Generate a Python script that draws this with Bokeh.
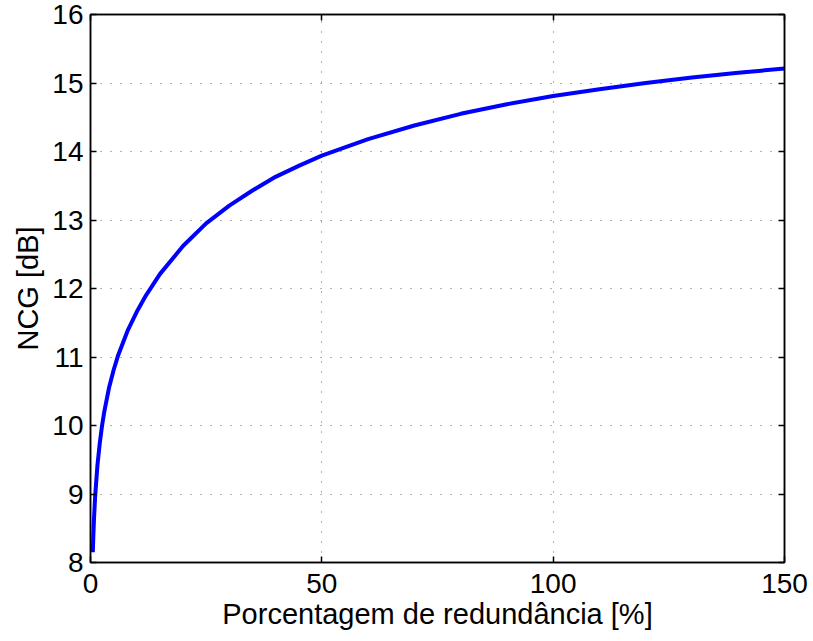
from bokeh.plotting import figure
from bokeh.models import Range1d, FixedTicker, LinearAxis
from bokeh.embed import file_html
from bokeh.resources import INLINE

redundancy = [0.5, 0.6, 0.75, 1, 1.5, 2, 2.5, 3, 4, 5, 6, 8, 10, 12, 15, 20, 25, 30, 35,
              40, 45, 50, 60, 70, 80, 90, 100, 110, 120, 130, 140, 150]
ncg = [8.15, 8.36, 8.63, 8.96, 9.42, 9.74, 10.00, 10.21, 10.55, 10.81, 11.03, 11.38,
       11.66, 11.90, 12.21, 12.62, 12.95, 13.21, 13.43, 13.63, 13.79, 13.94, 14.18,
       14.38, 14.55, 14.69, 14.81, 14.91, 15.00, 15.08, 15.15, 15.21]
x_ticks = [0, 50, 100, 150]
y_ticks = [8, 9, 10, 11, 12, 13, 14, 15, 16]

FONT = "Liberation Sans"
TICK_FS = "28px"
LABEL_FS = "29px"

p = figure(width=813, height=641, output_backend="svg", toolbar_location=None,
           x_range=Range1d(0, 150), y_range=Range1d(8, 16),
           min_border_left=90, min_border_right=29, min_border_top=14, min_border_bottom=79)
p.background_fill_color = "white"
p.border_fill_color = "white"
p.outline_line_color = "black"
p.outline_line_width = 1.5

p.line(redundancy, ncg, line_color="#0000ff", line_width=4, line_join="round")

for ax, ticks in ((p.xaxis[0], x_ticks), (p.yaxis[0], y_ticks)):
    ax.ticker = FixedTicker(ticks=ticks)
    ax.major_tick_in = 6
    ax.major_tick_out = 0
    ax.minor_tick_in = 0
    ax.minor_tick_out = 0
    ax.axis_line_color = "black"
    ax.axis_line_width = 1.5
    ax.major_tick_line_width = 1.5
    ax.major_label_text_font = FONT
    ax.major_label_text_font_size = TICK_FS
    ax.major_label_text_color = "black"
    ax.axis_label_text_font = FONT
    ax.axis_label_text_font_size = LABEL_FS
    ax.axis_label_text_font_style = "normal"
    ax.axis_label_text_color = "black"

p.xaxis[0].axis_label = "Porcentagem de redundância [%]"
p.yaxis[0].axis_label = "NCG [dB]"
p.xaxis[0].major_label_standoff = 11
p.xaxis[0].axis_label_standoff = 2
p.yaxis[0].major_label_standoff = 7
p.yaxis[0].axis_label_standoff = 5

for loc, ticks in (("above", x_ticks), ("right", y_ticks)):
    ax = LinearAxis(ticker=FixedTicker(ticks=ticks), major_tick_in=6, major_tick_out=0,
                    minor_tick_in=0, minor_tick_out=0,
                    major_label_overrides={t: "" for t in ticks},
                    major_label_standoff=0, axis_line_color="black", axis_line_width=1.5,
                    major_tick_line_width=1.5)
    p.add_layout(ax, loc)

p.xgrid.ticker = FixedTicker(ticks=x_ticks)
p.ygrid.ticker = FixedTicker(ticks=y_ticks)
for g in (p.xgrid[0], p.ygrid[0]):
    g.grid_line_color = "black"
    g.grid_line_alpha = 0.6
    g.grid_line_dash = "1 9"
    g.grid_line_width = 1

open("out.html", "w").write(file_html(p, INLINE))
